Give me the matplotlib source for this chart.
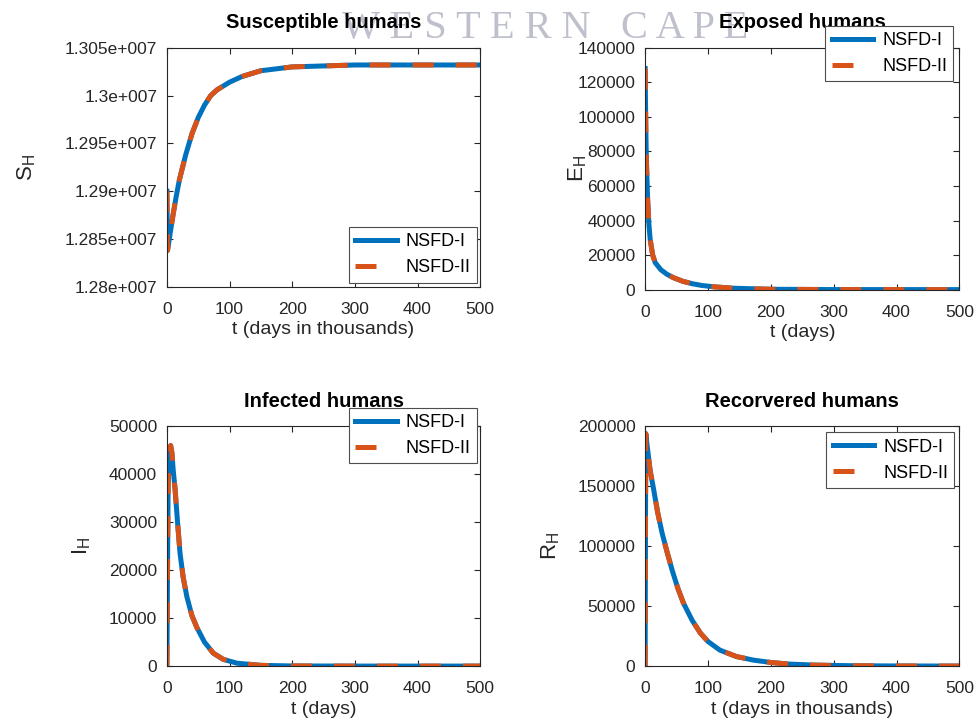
import numpy as np
import matplotlib.pyplot as plt

plt.rcParams['font.family'] = ['Liberation Sans', 'DejaVu Sans']
plt.rcParams['mathtext.fontset'] = 'custom'
plt.rcParams['mathtext.rm'] = 'Liberation Sans'
plt.rcParams['mathtext.it'] = 'Liberation Sans'
plt.rcParams['mathtext.default'] = 'regular'

# ---- data ----
t_S = [0, 1, 5, 10, 15, 20, 30, 40, 50, 60, 70, 80, 100, 120, 150, 200, 250, 300, 400, 500]
S_H = [1.2900e7, 1.2838e7, 1.2855e7, 1.2876e7, 1.2895e7, 1.2912e7, 1.2938e7, 1.2960e7,
       1.2977e7, 1.2990e7, 1.3000e7, 1.3006e7, 1.3014e7, 1.3020e7, 1.3026e7, 1.3030e7,
       1.3031e7, 1.3032e7, 1.3032e7, 1.3032e7]

t_E = [0, 1, 2, 4, 6, 8, 12, 16, 25, 35, 45, 60, 75, 90, 110, 140, 200, 300, 500]
E_H = [128000, 95000, 75000, 52000, 38000, 29000, 20000, 15600, 11500, 8800, 6900,
       4800, 3400, 2400, 1600, 800, 200, 20, 0]

t_I = [0, 1, 2, 4, 6, 8, 10, 13, 17, 21, 26, 32, 40, 48, 60, 74, 90, 112, 150, 200, 300, 500]
I_H = [0, 20000, 38000, 45500, 46000, 44500, 41000, 37000, 30000, 23500, 18500, 14400,
       10500, 8000, 5000, 2700, 1400, 600, 150, 30, 0, 0]

t_R = [0, 0.5, 1, 3, 8, 13, 20, 27, 35, 43, 52, 61, 75, 88, 100, 119, 145, 172, 200,
       228, 270, 330, 400, 500]
R_H = [0, 100000, 194000, 185000, 163000, 149000, 128000, 111000, 95000, 80000, 65000,
       52500, 38000, 27500, 20500, 13300, 8000, 5000, 3000, 1700, 800, 300, 100, 20]

x_ticks = [0, 100, 200, 300, 400, 500]
S_ticks = [1.28e7, 1.285e7, 1.29e7, 1.295e7, 1.3e7, 1.305e7]
S_ticklabels = ['1.28e+007', '1.285e+007', '1.29e+007', '1.295e+007', '1.3e+007', '1.305e+007']
E_ticks = [0, 20000, 40000, 60000, 80000, 100000, 120000, 140000]
I_ticks = [0, 10000, 20000, 30000, 40000, 50000]
R_ticks = [0, 50000, 100000, 150000, 200000]

blue = '#0072BD'
orange = '#D95319'
axcol = '#262626'

fig = plt.figure(figsize=(9.76, 7.24), dpi=100)

# faint watermark behind the top titles
fig.text(0.559, 0.961, 'W E S T E R N   C A P E', family='Liberation Serif',
         fontsize=29, color='#a9abbc', alpha=0.75, ha='center', va='center', zorder=-1)

panels = [
    # rect, t, y, title, xlabel, ylabel, ylabel x, ylim, yticks, legend loc/anchor
    ([0.171, 0.604, 0.321, 0.330], t_S, S_H, 'Susceptible humans', 't (days in thousands)',
     '$S_H$', -0.41, (1.28e7, 1.305e7), S_ticks, ('lower right', (0.99, 0.017))),
    ([0.661, 0.600, 0.322, 0.334], t_E, E_H, 'Exposed humans', 't (days)',
     '$E_H$', -0.18, (0, 140000), E_ticks, ('upper right', (0.981, 1.091))),
    ([0.171, 0.080, 0.321, 0.331], t_I, I_H, 'Infected humans', 't (days)',
     '$I_H$', -0.235, (0, 50000), I_ticks, ('upper right', (0.99, 1.079))),
    ([0.661, 0.080, 0.322, 0.331], t_R, R_H, 'Recorvered humans', 't (days in thousands)',
     '$R_H$', -0.265, (0, 200000), R_ticks, ('upper right', (0.984, 0.975))),
]

for rect, t, y, title, xl, yl, ylx, ylim, yt, (loc, anchor) in panels:
    ax = fig.add_axes(rect)
    ax.plot(t, y, color=blue, lw=3.6, label='NSFD-I')
    ax.plot(t, y, color=orange, lw=3.6, dashes=(4.2, 4.4), dash_capstyle='butt', label='NSFD-II')
    ax.set_xlim(0, 500)
    ax.set_ylim(*ylim)
    ax.set_xticks(x_ticks)
    ax.set_yticks(yt)
    if ylim[1] > 1e6:
        ax.set_yticklabels(S_ticklabels)
    ax.tick_params(direction='in', length=4, width=0.8, top=True, right=True,
                   labelsize=12.5, colors=axcol)
    ax.tick_params(axis='x', pad=11)
    ax.tick_params(axis='y', pad=7)
    for sp in ax.spines.values():
        sp.set_color(axcol)
        sp.set_linewidth(0.8)
    ax.set_title(title, fontsize=14.5, fontweight='bold', pad=14)
    ax.set_xlabel(xl, fontsize=14, color=axcol, labelpad=3)
    ax.set_ylabel(yl, fontsize=16, color=axcol)
    ax.yaxis.set_label_coords(ylx, 0.5)
    leg = ax.legend(loc=loc, bbox_to_anchor=anchor, borderaxespad=0, fontsize=13,
                    fancybox=False, framealpha=1, edgecolor='0.3', handlelength=2.3,
                    handletextpad=0.5, borderpad=0.35, labelspacing=0.5)
    leg.get_frame().set_linewidth(0.8)

plt.savefig('out.png', dpi=100)
